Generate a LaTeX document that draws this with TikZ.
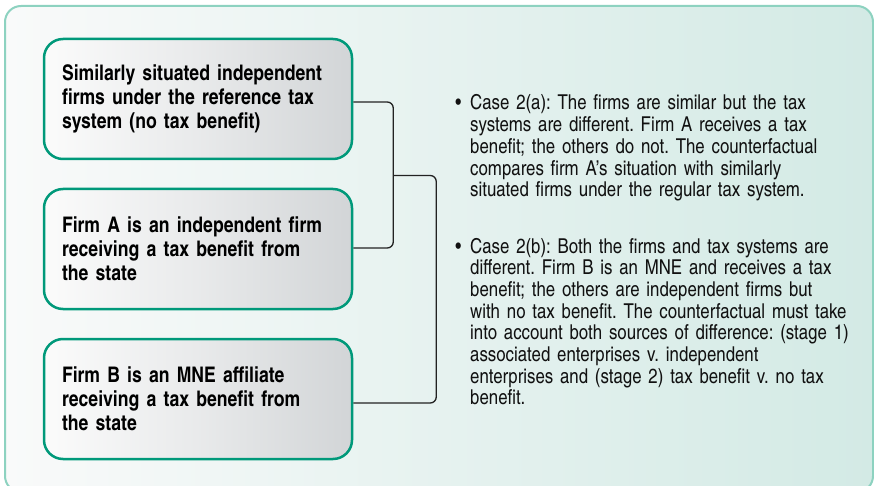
\documentclass[tikz,border=0pt]{standalone}
\usepackage{fontspec}
\setmainfont{texgyreheroscn}[Extension=.otf,UprightFont=*-regular,BoldFont=*-bold,ItalicFont=*-italic,BoldItalicFont=*-bolditalic]
\usetikzlibrary{calc}
\setlength{\lineskiplimit}{-100pt}
\frenchspacing
\definecolor{framegreen}{HTML}{8DD2C0}
\definecolor{panelleft}{HTML}{F9FAFA}
\definecolor{panelright}{HTML}{D3EAE5}
\definecolor{boxgreen}{HTML}{00997A}
\definecolor{boxleft}{HTML}{FBFBFB}
\definecolor{boxright}{HTML}{D2D5D7}
\definecolor{linkgray}{HTML}{222222}
\definecolor{bodytext}{HTML}{111111}
\tikzset{
  panel/.style={draw=framegreen, line width=2pt, rounded corners=16pt,
    left color=panelleft, right color=panelright},
  firmbox/.style={draw=boxgreen, line width=2.5pt, rounded corners=19pt,
    left color=boxleft, right color=boxright, middle color=boxleft!55!boxright,
    minimum width=308pt, minimum height=120pt, text width=272pt,
    inner xsep=18pt, align=left, text=black,
    font=\fontsize{21.5}{24}\selectfont\bfseries},
  link/.style={draw=linkgray, line width=1.3pt, rounded corners=6pt},
  casetext/.style={anchor=base west, align=left, inner sep=0pt, text=bodytext,
    text width=420pt, font=\fontsize{20.5}{21.7}\selectfont}
}
\newcommand{\casebullet}{\llap{•\hspace{9pt}}}
\begin{document}
\begin{tikzpicture}[x=1pt,y=-1pt]
\useasboundingbox (0,0) rectangle (874,486);
\begin{scope}
\clip (0,0) rectangle (874,486);
\path[panel] (5,6) rectangle (873,492);
\end{scope}

% the three firms
\node[firmbox] (b1) at (198,99) {Similarly situated independent\\
firms under the reference tax\\
system (no tax benefit)};
\node[firmbox] (b2) at (198,249) {Firm A is an independent firm\\
receiving a tax benefit from\\
the state};
\node[firmbox] (b3) at (198,399) {Firm B is an MNE affiliate\\
receiving a tax benefit from\\
the state};

% brackets joining the firms
\draw[link] ($(b1.east)+(0,3)$) -- ++(40,0) coordinate (j1) |- ($(b2.east)+(0,-1)$);
\coordinate (jm) at ($(j1)!0.5!(j1 |- b2.east)$);
\draw[link] (jm) -- ++(43,0) |- ($(b3.east)+(0,4)$);

% the two cases
\node[casetext] (c1) at (470,110) {\casebullet Case 2(a): The firms are similar but the tax\\
systems are  different. Firm A receives a tax\\
benefit; the others do not. The counterfactual\\
compares firm A’s situation with similarly\\
situated firms under the regular tax system.};
\node[casetext] (c2) at (470,253) {\casebullet Case 2(b): Both the firms and tax systems are\\
different. Firm B is an MNE and receives a tax\\
benefit; the others are independent firms but\\
with no tax benefit. The counterfactual must take\\
into account both sources of difference: (stage 1)\\
associated enterprises v. independent\\
enterprises and (stage 2) tax benefit v. no tax\\
benefit.};
\end{tikzpicture}
\end{document}
